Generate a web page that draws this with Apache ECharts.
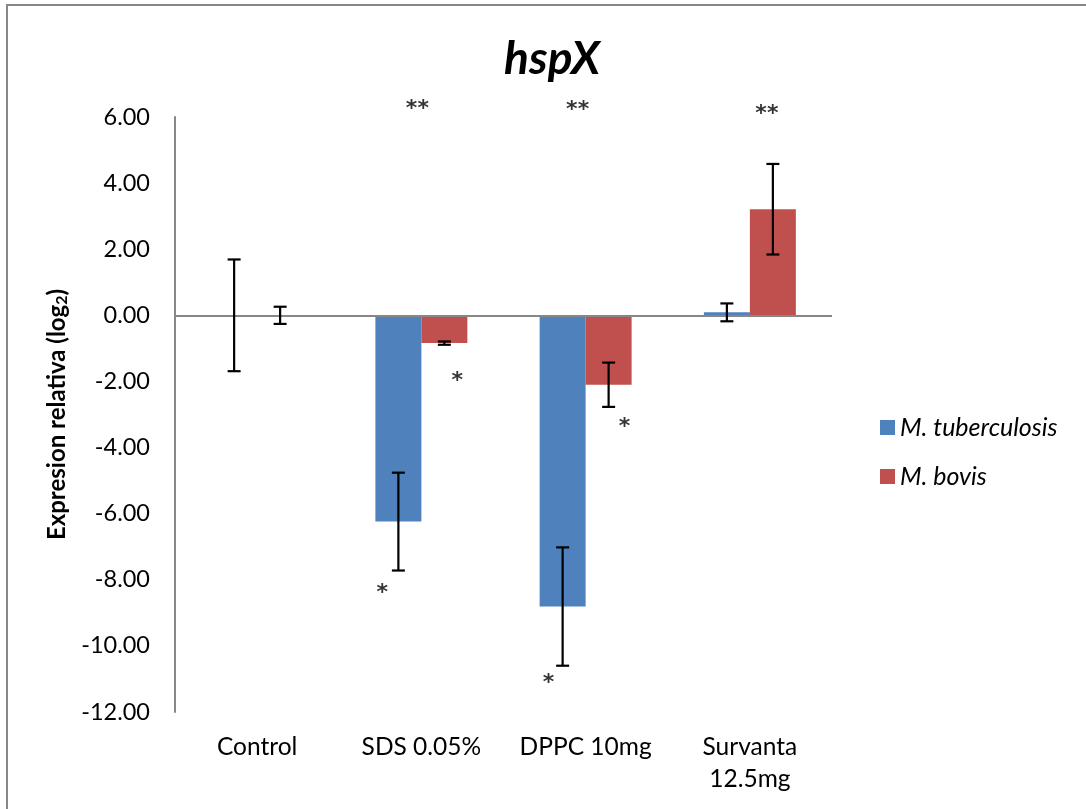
<!DOCTYPE html>
<html>
<head>
<meta charset="utf-8">
<script src="https://cdn.jsdelivr.net/npm/echarts@6/dist/echarts.min.js"></script>
<style>
html,body{margin:0;padding:0;background:#fff;overflow:hidden;}
#chart{width:1086px;height:809px;}
</style>
</head>
<body>
<div id="chart"></div>
<script>
// ---- data ----
const categories = ['Control', 'SDS 0.05%', 'DPPC 10mg', 'Survanta\n12.5mg'];
const seriesNames = ['M. tuberculosis', 'M. bovis'];
const tbValues = [0.00, -6.24, -8.81, 0.09];
const tbErrors = [1.69, 1.48, 1.79, 0.27];
const bovisValues = [0.00, -0.84, -2.10, 3.21];
const bovisErrors = [0.26, 0.05, 0.67, 1.37];
const yTicks = { min: -12, max: 6, interval: 2 };
// significance marks: category index, y value, text, horizontal offset
const starCat = [1, 2, 3, 1, 1, 2, 2];
const starY = [6.24, 6.21, 6.09, -8.40, -1.99, -11.12, -3.38];
const starText = ['**', '**', '**', '*', '*', '*', '*'];
const starDx = [-4, -8, 17, -39, 36, -37, 39];

const colors = ['#4F81BD', '#C0504D'];
const FONT = 'Lato, "Open Sans", sans-serif';

const chart = echarts.init(document.getElementById('chart'));

function errorSeries(values, errors, side) {
  return {
    type: 'custom',
    name: 'err' + side,
    silent: true,
    z: 5,
    data: values.map((v, i) => [i, v, errors[i]]),
    encode: { x: 0, y: 1 },
    renderItem: function (params, api) {
      const i = api.value(0), v = api.value(1), e = api.value(2);
      const bandW = api.size([1, 0])[0];
      const off = side * bandW * 0.14;
      const top = api.coord([i, v + e]);
      const bot = api.coord([i, v - e]);
      const x = top[0] + off;
      const cap = 6.5;
      const st = { stroke: '#000', lineWidth: 2.2 };
      return {
        type: 'group',
        children: [
          { type: 'line', shape: { x1: x, y1: top[1], x2: x, y2: bot[1] }, style: st },
          { type: 'line', shape: { x1: x - cap, y1: top[1], x2: x + cap, y2: top[1] }, style: st },
          { type: 'line', shape: { x1: x - cap, y1: bot[1], x2: x + cap, y2: bot[1] }, style: st }
        ]
      };
    }
  };
}

const option = {
  animation: false,
  backgroundColor: '#fff',
  graphic: [{
    type: 'rect',
    shape: { x: 7, y: 5, width: 1300, height: 1000 },
    style: { fill: 'none', stroke: '#878787', lineWidth: 2 },
    silent: true
  }],
  title: {
    text: 'hspX',
    left: 547,
    top: 31,
    textAlign: 'center',
    textStyle: { fontFamily: FONT, fontStyle: 'italic', fontWeight: 'bold', fontSize: 46, color: '#000' }
  },
  legend: {
    orient: 'vertical',
    left: 875,
    top: 410,
    itemWidth: 15,
    itemHeight: 15,
    itemGap: 24,
    icon: 'rect',
    data: seriesNames,
    textStyle: { fontFamily: FONT, fontStyle: 'italic', fontSize: 25, lineHeight: 24, color: '#000' }
  },
  grid: { left: 175, right: 254, top: 117, bottom: 97, containLabel: false },
  xAxis: {
    type: 'category',
    data: categories,
    axisLine: { show: false, onZero: false },
    axisTick: { show: false },
    axisLabel: { fontFamily: FONT, fontSize: 24.5, lineHeight: 32, color: '#000', margin: 19, interval: 0 }
  },
  yAxis: {
    type: 'value',
    min: yTicks.min,
    max: yTicks.max,
    interval: yTicks.interval,
    axisLine: { show: true, lineStyle: { color: '#878787', width: 2 } },
    axisTick: { show: false },
    splitLine: { show: false },
    axisLabel: {
      fontFamily: FONT, fontSize: 23.5, color: '#000', margin: 25,
      formatter: v => v.toFixed(2)
    },
    name: 'Expresion relativa (log{sub|2})',
    nameLocation: 'middle',
    nameGap: 103,
    nameTextStyle: {
      fontFamily: FONT, fontWeight: 'bold', fontSize: 24, color: '#000',
      rich: { sub: { fontFamily: FONT, fontWeight: 'bold', fontSize: 16, color: '#000', verticalAlign: 'bottom', padding: [10, 0, 0, 0] } }
    }
  },
  series: [
    {
      name: seriesNames[0],
      type: 'bar',
      data: tbValues,
      barWidth: '28%',
      barGap: '0%',
      itemStyle: { color: colors[0] },
      markLine: {
        silent: true,
        symbol: 'none',
        label: { show: false },
        lineStyle: { color: '#878787', width: 2, type: 'solid' },
        data: [{ yAxis: 0 }]
      }
    },
    {
      name: seriesNames[1],
      type: 'bar',
      data: bovisValues,
      barWidth: '28%',
      barGap: '0%',
      itemStyle: { color: colors[1] }
    },
    errorSeries(tbValues, tbErrors, -1),
    errorSeries(bovisValues, bovisErrors, 1),
    {
      type: 'scatter',
      name: 'stars',
      silent: true,
      clip: false,
      symbolSize: 0,
      z: 6,
      data: starCat.map((c, i) => ({
        value: [c, starY[i]],
        label: { formatter: starText[i], offset: [starDx[i], 0] }
      })),
      label: {
        show: true,
        position: 'inside',
        fontFamily: '"DejaVu Sans", sans-serif',
        fontWeight: 'bold',
        fontSize: 22,
        color: '#000'
      }
    }
  ]
};
chart.setOption(option);
</script>
</body>
</html>
